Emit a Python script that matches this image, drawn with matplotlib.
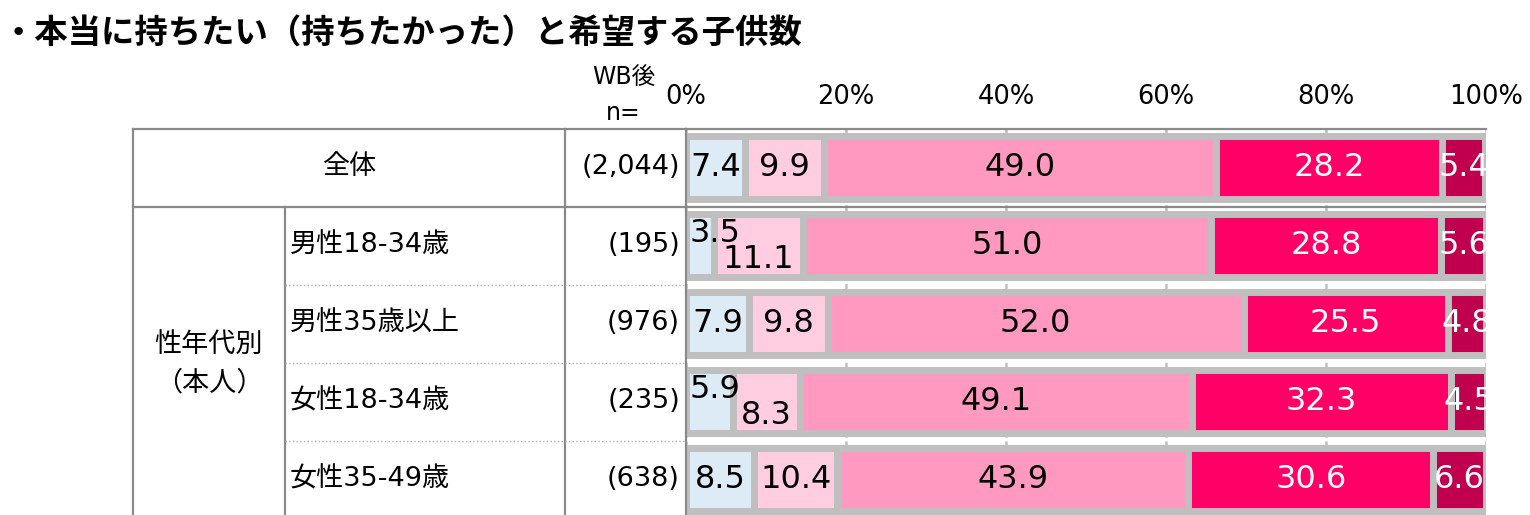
import matplotlib.pyplot as plt
import numpy as np

plt.rcParams['font.family'] = ['DejaVu Sans', 'Noto Sans CJK JP']

# データ
categories = ["全体", "男性18-34歳", "男性35歳以上", "女性18-34歳", "女性35-49歳"]
n_labels = ["(2,044)", "(195)", "(976)", "(235)", "(638)"]
ticks = [0, 20, 40, 60, 80, 100]
tick_labels = ["0%", "20%", "40%", "60%", "80%", "100%"]

s1 = [7.4, 3.5, 7.9, 5.9, 8.5]
s2 = [9.9, 11.1, 9.8, 8.3, 10.4]
s3 = [49.0, 51.0, 52.0, 49.1, 43.9]
s4 = [28.2, 28.8, 25.5, 32.3, 30.6]
s5 = [5.4, 5.6, 4.8, 4.5, 6.6]

colors = ["#DDEBF7", "#FFCCE0", "#FF99BF", "#FF0066", "#C0004F"]
text_colors = ["black", "black", "black", "white", "white"]
line_c = "#8A8A8A"
edge_c = "#BFBFBF"

W, H = 1530, 515
fig = plt.figure(figsize=(W / 100, H / 100), dpi=100)

# 表部分（ピクセル座標の背景軸）
bg = fig.add_axes([0, 0, 1, 1])
bg.set_xlim(0, W)
bg.set_ylim(H, 0)
bg.axis("off")

top = 128.5
pitch = 78
row_y = [top + pitch / 2 + pitch * i for i in range(len(categories))]

bg.plot([133, 686], [top, top], color=line_c, lw=1.6)
bg.plot([133, 686], [top + pitch, top + pitch], color=line_c, lw=1.6)
bg.plot([133, 133], [top, H], color=line_c, lw=1.6)
bg.plot([285, 285], [top + pitch, H], color=line_c, lw=1.6)
bg.plot([565, 565], [top, H], color=line_c, lw=1.6)
for k in range(2, 5):
    bg.plot([285, 686], [top + pitch * k, top + pitch * k], color="#B0B0B0", lw=1, ls=":")

bg.text(2, 33, "・本当に持ちたい（持ちたかった）と希望する子供数", fontsize=24, fontweight="bold",
        family=["Noto Sans CJK JP"], ha="left", va="center")
bg.text(624, 77, "WB後", fontsize=17, ha="center", va="center")
bg.text(623, 113, "n=", fontsize=17, ha="center", va="center")

fs = 19.5
bg.text(349, row_y[0], categories[0], fontsize=fs, ha="center", va="center")
for i in range(1, len(categories)):
    bg.text(290, row_y[i], categories[i], fontsize=fs, ha="left", va="center")
for i in range(len(categories)):
    bg.text(680, row_y[i], n_labels[i], fontsize=fs, ha="right", va="center")
bg.text(209, 345, "性年代別", fontsize=fs, ha="center", va="center")
bg.text(209, 383, "（本人）", fontsize=fs, ha="center", va="center")

# 帯グラフ
ax = fig.add_axes([686 / W, (H - (top + pitch * 5)) / H, 800 / W, pitch * 5 / H])
ax.set_xlim(0, 100)
ax.set_ylim(4.5, -0.5)

for t in ticks:
    ax.axvline(t, color=edge_c, lw=1.8, ls=(0, (3, 1.5)), zorder=1)
ax.axhline(0.5, color=line_c, lw=1.6, zorder=1)

series = [s1, s2, s3, s4, s5]
y = np.arange(len(categories))
left = np.zeros(len(categories))
for j, s in enumerate(series):
    s = np.array(s)
    ax.barh(y, s, left=left, height=0.8, color=colors[j], edgecolor=edge_c, linewidth=5, zorder=2)
    for i in range(len(categories)):
        x = left[i] + s[i] / 2
        yy = y[i]
        ha = "center"
        if j == 0 and s[i] < 7:
            x = left[i] + 0.4
            ha = "left"
            yy = y[i] - 0.15
        if j == 1 and series[0][i] < 7:
            yy = y[i] + 0.18
        ax.text(x, yy, f"{s[i]:.1f}", fontsize=23, color=text_colors[j],
                ha=ha, va="center", zorder=3)
    left = left + s

ax.xaxis.tick_top()
ax.set_xticks(ticks, tick_labels)
ax.tick_params(axis="x", length=0, pad=13, labelsize=18.5)
ax.set_yticks([])
for sp in ["right", "bottom"]:
    ax.spines[sp].set_visible(False)
for sp in ["top", "left"]:
    ax.spines[sp].set_color(line_c)
    ax.spines[sp].set_linewidth(1.6)

fig.savefig("out.png", dpi=100)
